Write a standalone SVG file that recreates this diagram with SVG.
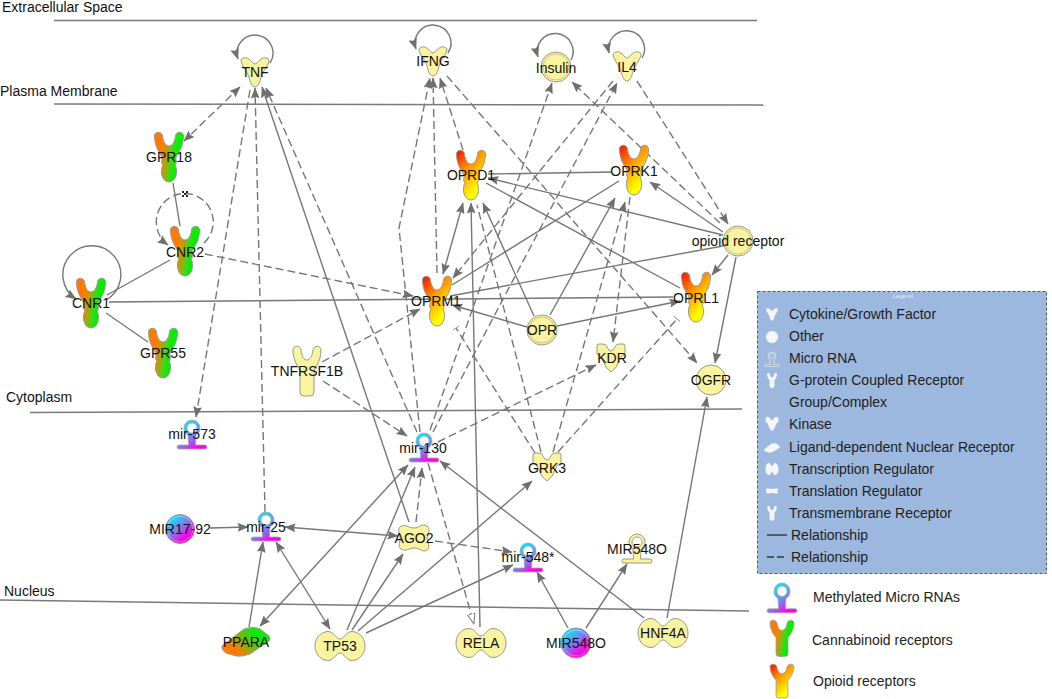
<svg xmlns="http://www.w3.org/2000/svg" width="1052" height="699" viewBox="0 0 1052 699">
<style>
text{font-family:"Liberation Sans",Arial,sans-serif;font-size:14px;fill:#111}
.c{text-anchor:middle}
.lg{fill:#222}
.comp{stroke:#7a7a7a;stroke-width:1.5;fill:none}
.s,.d,.t{stroke:#777;stroke-width:1.4;fill:none;marker-end:url(#a)}
.d{stroke-dasharray:8 4}
.both{marker-start:url(#a)}
.n{marker-end:none}
.tee{marker-end:url(#tee)}
.open{marker-end:url(#o)}
.y{fill:#faf3a0;stroke:#9a9a86;stroke-width:1}
.cb{fill:url(#gc);stroke:#999;stroke-width:1}
.op{fill:url(#go);stroke:#999;stroke-width:1}
.mi{fill:url(#gm);stroke:#aaa;stroke-width:.8}
.gr{fill:url(#gg);stroke:#999;stroke-width:1}
.ring{fill:none;stroke:#c9c48c;stroke-width:1}
.w{fill:#f5f6f8;stroke:#d8dde6;stroke-width:.6}
</style>
<defs>
<marker id="a" viewBox="0 0 10 8" refX="9.5" refY="4" markerUnits="userSpaceOnUse" markerWidth="11" markerHeight="9" orient="auto-start-reverse"><path d="M0,0L10,4L0,8L1.5,4Z" fill="#6f6f6f"/></marker>
<marker id="o" viewBox="0 0 10 8" refX="9.5" refY="4" markerUnits="userSpaceOnUse" markerWidth="11" markerHeight="9" orient="auto"><path d="M0,.5L9.5,4L0,7.5Z" fill="#fff" stroke="#777" stroke-width=".9"/></marker>
<marker id="tee" viewBox="0 0 2 8" refX="1" refY="4" markerUnits="userSpaceOnUse" markerWidth="2" markerHeight="8" orient="auto"><path d="M1,0V8" stroke="#999" stroke-width="1"/></marker>
<linearGradient id="gc" x1=".2" y1=".2" x2=".8" y2=".35"><stop offset="0" stop-color="#ff7a00"/><stop offset=".3" stop-color="#e88a00"/><stop offset=".75" stop-color="#40d818"/><stop offset="1" stop-color="#00f000"/></linearGradient>
<linearGradient id="go" x1=".05" y1="0" x2=".6" y2=".85"><stop offset="0" stop-color="#ff1000"/><stop offset=".45" stop-color="#ff9000"/><stop offset="1" stop-color="#ffff00"/></linearGradient>
<linearGradient id="gm" x1=".35" y1=".05" x2=".95" y2=".95"><stop offset="0" stop-color="#00e8ff"/><stop offset=".3" stop-color="#50a8f8"/><stop offset=".55" stop-color="#8a70f0"/><stop offset=".85" stop-color="#ff00ee"/></linearGradient>
<linearGradient id="gg" x1=".15" y1=".1" x2=".8" y2=".9"><stop offset="0" stop-color="#00f0ff"/><stop offset=".45" stop-color="#7a80f0"/><stop offset=".85" stop-color="#ff00e0"/></linearGradient>
<linearGradient id="gl" x1="0" y1=".8" x2="1" y2=".2"><stop offset=".2" stop-color="#ff7a00"/><stop offset=".75" stop-color="#10e810"/></linearGradient>
<path id="gpcr" d="M-14.500,4C-14.500,-1 -7,-1 -6.500,4C-6,10 -3,14 0,14C3,14 6,10 6.500,4C7,-1 14.500,-1 14.500,4C14.500,14 10,20 7,25L7,28C8,30 7,32 6,33C9,37 8,50 0,50C-8,50 -9,37 -6,33C-7,32 -8,30 -7,28L-7,25C-10,20 -14.500,14 -14.500,4Z"/>
<path id="tm" d="M-14,4C-14,-1 -7,-1 -6,4C-5,11 -3,14 0,14C3,14 5,11 6,4C7,-1 14,-1 14,4C14,14 9,21 7,24L7,46Q7,50 3,50L-3,50Q-7,50 -7,46L-7,24C-9,21 -14,14 -14,4Z"/>
<path id="cyt" d="M-14,3C-12,0 -8,0 -5,3C-3,5 -1,7 0,7C1,7 3,5 5,3C8,0 12,0 14,3C14,8 8,14 6,20C5,25 3,30 0,30C-3,30 -5,25 -6,20C-8,14 -14,8 -14,3Z"/>
<path id="kin" d="M-14,2Q-14,0 -12,0L-8,0Q-5,0 -4,3Q-2,7 0,7Q2,7 4,3Q5,0 8,0L12,0Q14,0 14,2L14,10Q9,12 8,17Q6,24 0,28Q-6,24 -8,17Q-9,12 -14,10Z"/>
<path id="tr" d="M-25,0C-25,-10 -17,-14.500 -12,-14.500C-6,-14.500 -4,-7 0,-7C4,-7 6,-14.500 12,-14.500C17,-14.500 25,-10 25,0C25,10 17,14.500 12,14.500C6,14.500 4,7 0,7C-4,7 -6,14.500 -12,14.500C-17,14.500 -25,10 -25,0Z"/>
<path id="tl" d="M-14,-11C-10,-15 -5,-10 0,-10C5,-10 8,-15 13,-12C17,-9 14,-3 13,0C13,4 17,9 13,12C9,15 6,10 0,10C-5,10 -8,14 -13,11C-17,8 -13,3 -14,0C-14,-4 -17,-8 -14,-11Z"/>
<path id="ld" d="M-24,4L-2,-13Q8,-16 14,-13L23,-6Q25,-3 23,-1L4,12Q-4,15 -10,14L-20,11Q-25,8 -24,4Z"/>
<path id="mir" fill-rule="evenodd" d="M-4,15C-7,13 -8,11 -8,8A8,8 0 1 1 8,8C8,11 7,13 4,15L3.500,25L13,25Q15,25 15,27Q15,29 13,29L-13,29Q-15,29 -15,27Q-15,25 -13,25L-3.500,25ZM0,3A5,5 0 1 0 .01,3Z"/>
</defs>
<rect width="1052" height="699" fill="#fff"/>
<g id="compartments">
<path class="comp" d="M54,20.500H757"/><path class="comp" d="M54,104L764,105"/><path class="comp" d="M30,412.500L742,409"/><path class="comp" d="M0,600L749,611"/>
<text x="2" y="12">Extracellular Space</text><text x="0" y="96">Plasma Membrane</text><text x="6" y="402">Cytoplasm</text><text x="4" y="596">Nucleus</text>
</g>
<g id="connectors">
<path class="s" d="M270,63A18,18 0 1 0 238,59"/>
<path class="s" d="M448,53A18,18 0 1 0 416,49"/>
<path class="s" d="M571,60A18,18 0 1 0 538,57"/>
<path class="s" d="M642,58A18,18 0 1 0 609,53"/>
<path class="s" d="M106,300A29,29 0 1 0 76,299"/>
<path class="d" d="M204,243A28.500,28.500 0 1 0 168,245"/>
<path d="M182,191h2v2h-2zM186,191h2v2h-2zM182,195h2v2h-2zM186,195h2v2h-2zM184,193h2v2h-2z" fill="#222"/>
<path class="d both" d="M240,87L184,141"/>
<path class="s n" d="M173,183L180,226"/>
<path class="s n" d="M170,260L107,295"/>
<path class="s n" d="M106,313L148,342"/>
<path class="s n" d="M109,302L673,297"/>
<path class="d" d="M205,254L413,296"/>
<path class="s both" d="M443,274L463,203"/>
<path class="s" d="M480,627L471,203"/>
<path class="s" d="M534,316L483,203"/>
<path class="d n" d="M541,452L477,205"/>
<path class="d tee" d="M535,453L456,328"/>
<path class="d tee" d="M558,452L677,319"/>
<path class="d" d="M553,452L625,202"/>
<path class="d" d="M630,197L613,342"/>
<path class="s" d="M550,315L615,198"/>
<path class="s n" d="M619,181L452,285"/>
<path class="s n" d="M488,174L612,172"/>
<path class="s" d="M723,235L488,178"/>
<path class="s" d="M723,232L650,182"/>
<path class="s n" d="M723,246L450,296"/>
<path class="s" d="M728,255L712,275"/>
<path class="s" d="M736,257L715,363"/>
<path class="d" d="M637,81L728,224"/>
<path class="d" d="M720,223L572,82"/>
<path class="d" d="M430,430L552,83"/>
<path class="d" d="M613,81L453,278"/>
<path class="d" d="M433,432L617,83"/>
<path class="d" d="M420,432L399,228L430,78"/>
<path class="d" d="M437,273L433,78"/>
<path class="d" d="M463,150L440,78"/>
<path class="d" d="M447,76L697,363"/>
<path class="d" d="M250,90L196,417"/>
<path class="d" d="M265,512L255,88"/>
<path class="s" d="M409,522L262,87"/>
<path class="d" d="M417,432L266,88"/>
<path class="d" d="M323,381L407,436"/>
<path class="d" d="M322,362L420,309"/>
<path class="s both" d="M260,626L408,465"/>
<path class="s" d="M347,630L415,467"/>
<path class="d" d="M416,522L422,468"/>
<path class="s" d="M644,618L440,461"/>
<path class="s" d="M352,630L403,554"/>
<path class="s" d="M358,631L532,481"/>
<path class="s" d="M366,633L513,565"/>
<path class="d" d="M435,541L512,552"/>
<path class="d open" d="M428,463L474,624"/>
<path class="d" d="M438,442L596,365"/>
<path class="s" d="M527,327L452,305"/>
<path class="s" d="M557,326L680,301"/>
<path class="s n" d="M486,183L680,288"/>
<path class="s" d="M667,618L707,397"/>
<path class="s" d="M210,528L248,527"/>
<path class="s both" d="M285,527L398,536"/>
<path class="s" d="M249,627L263,542"/>
<path class="s both" d="M276,542L330,629"/>
<path class="s" d="M568,628L537,572"/>
<path class="s" d="M586,628L627,564"/>
</g>
<g id="node-TNF"><use href="#cyt" x="255" y="57" class="y"/><text class="c" x="255" y="77">TNF</text></g>
<g id="node-IFNG"><use href="#cyt" x="433" y="46" class="y"/><text class="c" x="433" y="66">IFNG</text></g>
<g id="node-Insulin"><circle cx="556" cy="67" r="15" class="y"/><circle cx="556" cy="67" r="13" class="ring"/><text class="c" x="556" y="73">Insulin</text></g>
<g id="node-IL4"><use href="#cyt" x="627" y="51" class="y"/><text class="c" x="627" y="72">IL4</text></g>
<g id="node-GPR18"><use href="#gpcr" x="169" y="132" class="cb"/><text class="c" x="169" y="162">GPR18</text></g>
<g id="node-CNR2"><use href="#gpcr" x="185" y="226" class="cb"/><text class="c" x="185" y="257">CNR2</text></g>
<g id="node-CNR1"><use href="#gpcr" x="91" y="278" class="cb"/><text class="c" x="91" y="308">CNR1</text></g>
<g id="node-GPR55"><use href="#gpcr" x="163" y="328" class="cb"/><text class="c" x="163" y="358">GPR55</text></g>
<g id="node-OPRD1"><use href="#gpcr" x="471" y="150" class="op"/><text class="c" x="471" y="180">OPRD1</text></g>
<g id="node-OPRK1"><use href="#gpcr" x="634" y="145" class="op"/><text class="c" x="634" y="176">OPRK1</text></g>
<g id="node-OPRM1"><use href="#gpcr" x="437" y="276" class="op"/><text class="c" x="436" y="306">OPRM1</text></g>
<g id="node-OPRL1"><use href="#gpcr" x="696" y="272" class="op"/><text class="c" x="696" y="303">OPRL1</text></g>
<g id="node-opioid-receptor"><circle cx="738" cy="241" r="15" class="y"/><circle cx="738" cy="241" r="13" class="ring"/><text class="c" x="738" y="246">opioid receptor</text></g>
<g id="node-OPR"><circle cx="542" cy="330" r="15" class="y"/><circle cx="542" cy="330" r="13" class="ring"/><text class="c" x="542" y="335">OPR</text></g>
<g id="node-OGFR"><circle cx="711" cy="380" r="15" class="y"/><text class="c" x="711" y="385">OGFR</text></g>
<g id="node-KDR"><use href="#kin" x="611" y="344" class="y"/><text class="c" x="612" y="363">KDR</text></g>
<g id="node-TNFRSF1B"><use href="#tm" x="307" y="346" class="y"/><text class="c" x="307" y="376">TNFRSF1B</text></g>
<g id="node-GRK3"><use href="#kin" x="547" y="453" class="y"/><text class="c" x="547" y="473">GRK3</text></g>
<g id="node-mir-573"><use href="#mir" x="192" y="420" class="mi"/><text class="c" x="192" y="439">mir-573</text></g>
<g id="node-mir-130"><use href="#mir" x="424" y="433" class="mi"/><text class="c" x="423" y="453">mir-130</text></g>
<g id="node-mir-25"><use href="#mir" x="266" y="512" class="mi"/><text class="c" x="266" y="532">mir-25</text></g>
<g id="node-mir-548"><use href="#mir" x="528" y="543" class="mi"/><text class="c" x="528" y="562">mir-548*</text></g>
<g id="node-MIR548O-mirna"><use href="#mir" x="637" y="534" class="y"/><text class="c" x="637" y="554">MIR548O</text></g>
<g id="node-MIR17-92"><circle cx="180" cy="529" r="14.500" class="gr"/><circle cx="180" cy="529" r="12.800" fill="none" stroke="#fff" stroke-opacity=".35"/><text class="c" x="180" y="534">MIR17-92</text></g>
<g id="node-AGO2"><use href="#tl" x="414" y="538" class="y"/><text class="c" x="414" y="543">AGO2</text></g>
<g id="node-PPARA"><use href="#ld" x="246" y="642" fill="url(#gl)" stroke="#999"/><text class="c" x="246" y="647">PPARA</text></g>
<g id="node-TP53"><use href="#tr" x="340" y="646" class="y"/><text class="c" x="340" y="651">TP53</text></g>
<g id="node-RELA"><use href="#tr" x="481" y="643" class="y"/><text class="c" x="481" y="648">RELA</text></g>
<g id="node-MIR548O"><circle cx="576" cy="643" r="15" class="gr"/><circle cx="576" cy="643" r="13" fill="none" stroke="#fff" stroke-opacity=".35"/><text class="c" x="576" y="648">MIR548O</text></g>
<g id="node-HNF4A"><use href="#tr" x="663" y="633" class="y"/><text class="c" x="663" y="638">HNF4A</text></g>
<g id="legend">
<rect x="757.500" y="291.500" width="289" height="282" fill="#9db8de" stroke="#556" stroke-width="1" stroke-dasharray="3 2"/>
<text class="c" x="903" y="298" style="font-size:6px;fill:#e8eef8">Legend</text>
<use href="#cyt" transform="translate(772,308) scale(.42)" class="w"/>
<circle cx="772" cy="337" r="6" class="w"/>
<use href="#mir" transform="translate(772,352) scale(.5)" fill="none" stroke="#dfe3e0" stroke-width="1.600"/>
<use href="#gpcr" transform="translate(772,373) scale(.34,.3)" class="w"/>
<circle cx="772" cy="402" r="5.500" fill="none" stroke="#b0b6c0" stroke-width="1.500"/>
<use href="#kin" transform="translate(772,417) scale(.45,.5)" class="w"/>
<use href="#ld" transform="translate(772,448) scale(.32)" class="w"/>
<use href="#tr" transform="translate(772,469) scale(.26,.42)" class="w"/>
<use href="#tl" transform="translate(772,491) scale(.4,.2)" class="w"/>
<use href="#tm" transform="translate(772,506) scale(.34,.29)" class="w"/>
<path d="M767,535H787" stroke="#333" stroke-width="1.400"/>
<path d="M767,557H787" stroke="#333" stroke-width="1.400" stroke-dasharray="7 3"/>
<text class="lg" x="789" y="319">Cytokine/Growth Factor</text>
<text class="lg" x="789" y="341">Other</text>
<text class="lg" x="789" y="363">Micro RNA</text>
<text class="lg" x="789" y="385">G-protein Coupled Receptor</text>
<text class="lg" x="789" y="407">Group/Complex</text>
<text class="lg" x="789" y="429">Kinase</text>
<text class="lg" x="789" y="452">Ligand-dependent Nuclear Receptor</text>
<text class="lg" x="789" y="474">Transcription Regulator</text>
<text class="lg" x="789" y="496">Translation Regulator</text>
<text class="lg" x="789" y="518">Transmembrane Receptor</text>
<text class="lg" x="791" y="540">Relationship</text>
<text class="lg" x="791" y="562">Relationship</text>
</g>
<g id="key">
<use href="#mir" transform="translate(782,583) scale(1,1.03)" class="mi"/>
<use href="#tm" transform="translate(782,620) scale(.85,.73)" class="cb"/>
<use href="#tm" transform="translate(782,664) scale(.85,.68)" class="op"/>
<text class="lg" x="813" y="602">Methylated Micro RNAs</text>
<text class="lg" x="812" y="645">Cannabinoid receptors</text>
<text class="lg" x="813" y="686">Opioid receptors</text>
</g>
</svg>
